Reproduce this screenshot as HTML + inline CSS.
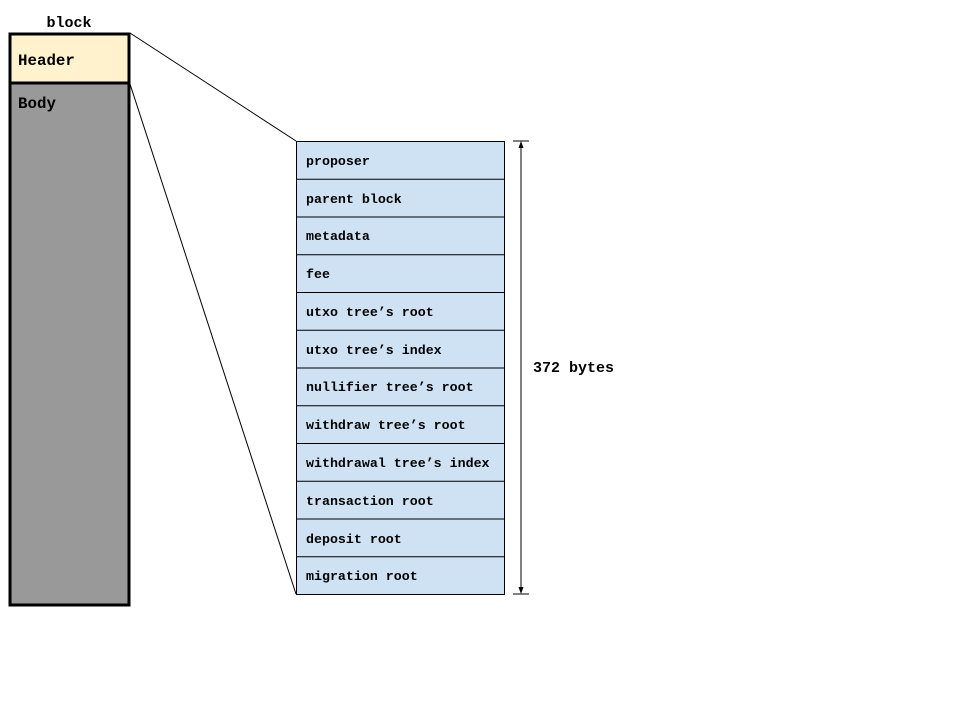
<!DOCTYPE html>
<html><head><style>body{margin:0;background:#fff}</style></head><body>
<svg width="960" height="720" xmlns="http://www.w3.org/2000/svg" font-family="'Liberation Mono', monospace" font-weight="bold">
<rect x="0" y="0" width="960" height="720" fill="#fff"/>
<text x="69" y="27" font-size="15" text-anchor="middle">block</text>
<rect x="10" y="34" width="119" height="49" fill="#fff2cc" stroke="#000" stroke-width="3"/>
<rect x="10" y="83" width="119" height="522" fill="#999" stroke="#000" stroke-width="3"/>
<text x="18" y="65" font-size="15.8">Header</text>
<text x="18" y="108" font-size="15.8">Body</text>
<line x1="130" y1="33" x2="296" y2="141" stroke="#000" stroke-width="1"/>
<line x1="130" y1="84" x2="296" y2="594" stroke="#000" stroke-width="1"/>
<g font-size="13.3" stroke-width="1">
<rect x="296.5" y="141.5" width="208" height="453" fill="#cfe2f3" stroke="#000"/>
<g stroke="#000">
<line x1="296" y1="179.25" x2="504" y2="179.25"/>
<line x1="296" y1="217" x2="504" y2="217"/>
<line x1="296" y1="254.75" x2="504" y2="254.75"/>
<line x1="296" y1="292.5" x2="504" y2="292.5"/>
<line x1="296" y1="330.25" x2="504" y2="330.25"/>
<line x1="296" y1="368" x2="504" y2="368"/>
<line x1="296" y1="405.75" x2="504" y2="405.75"/>
<line x1="296" y1="443.5" x2="504" y2="443.5"/>
<line x1="296" y1="481.25" x2="504" y2="481.25"/>
<line x1="296" y1="519" x2="504" y2="519"/>
<line x1="296" y1="556.75" x2="504" y2="556.75"/>
</g>
<text x="306" y="165">proposer</text>
<text x="306" y="203">parent block</text>
<text x="306" y="240">metadata</text>
<text x="306" y="278">fee</text>
<text x="306" y="316">utxo tree’s root</text>
<text x="306" y="354">utxo tree’s index</text>
<text x="306" y="391">nullifier tree’s root</text>
<text x="306" y="429">withdraw tree’s root</text>
<text x="306" y="467">withdrawal tree’s index</text>
<text x="306" y="505">transaction root</text>
<text x="306" y="543">deposit root</text>
<text x="306" y="580">migration root</text>
</g>
<g stroke="#000" stroke-width="1">
<line x1="513" y1="141" x2="529" y2="141"/>
<line x1="513" y1="594" x2="529" y2="594"/>
<line x1="521" y1="145" x2="521" y2="590"/>
</g>
<polygon points="521,141 518.5,148 523.5,148" fill="#000"/>
<polygon points="521,594 518.5,587 523.5,587" fill="#000"/>
<text x="533" y="372" font-size="15">372 bytes</text>
</svg>
</body></html>
